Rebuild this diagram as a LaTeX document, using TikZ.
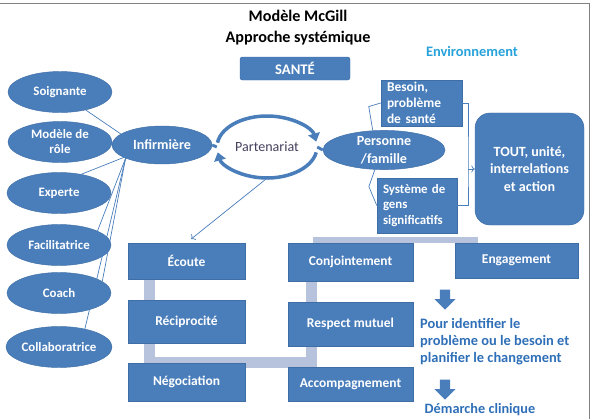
\documentclass[tikz,border=0pt]{standalone}
\usepackage{fontspec}
\setmainfont{Carlito}
\usetikzlibrary{shapes.geometric,shapes.arrows,arrows.meta,backgrounds}
\definecolor{boxBlue}{HTML}{4A7EBB}
\definecolor{boxEdge}{HTML}{3F6EA6}
\definecolor{barGray}{HTML}{B7C3DC}
\definecolor{textBlue}{HTML}{2E6FB7}
\definecolor{envBlue}{HTML}{27A2DB}
\definecolor{partText}{HTML}{45405E}

\begin{document}
\begin{tikzpicture}[x=0.03cm, y=-0.03cm,
    ovalStyle/.style={ellipse, draw=boxEdge, fill=boxBlue, text=white, align=center, inner sep=0pt, minimum width=3.12cm, minimum height=1.23cm, font=\bfseries\fontsize{11}{12.8}\selectfont},
    boxStyle/.style={rectangle, draw=boxEdge, fill=boxBlue, text=white, align=center, inner sep=0pt, minimum width=3.51cm, font=\bfseries\fontsize{11.5}{13.5}\selectfont},
    noteStyle/.style={rectangle, draw=boxEdge, fill=boxBlue, text=white, align=left, inner xsep=0.18cm, inner ysep=0pt, anchor=center},
    linkStyle/.style={draw=boxBlue, line width=0.6pt},
    barStyle/.style={draw=barGray, line width=0.32cm},
    arcStyle/.style={draw=boxBlue, line width=3pt, -{Triangle[length=7pt, width=10pt]}},
    bigArrow/.style={single arrow, fill=boxBlue, draw=none, shape border rotate=270, minimum height=0.6cm, minimum width=0.62cm, single arrow head extend=0.16cm, inner sep=0.15cm}]
    \useasboundingbox (0,0) rectangle (593,419);
    \draw[gray, line width=0.6pt] (0,3) -- (589,3) -- (589,419);

    % titre
    \node[font=\bfseries\fontsize{13.8}{17.9}\selectfont, align=center] (title) at (298,27.5) {Modèle McGill\\Approche systémique};
    \node[boxStyle, minimum width=3.3cm, minimum height=0.69cm, rounded corners=2pt, font=\bfseries\fontsize{12.5}{14}\selectfont] (sante) at (295,68.5) {SANTÉ};
    \node[font=\bfseries\fontsize{12.3}{14}\selectfont, text=envBlue] (env) at (472,51) {Environnement};

    % roles
    \node[ovalStyle] (role_1) at (60,92)  {Soignante};
    \node[ovalStyle] (role_2) at (60,142) {Modèle de\\rôle};
    \node[ovalStyle] (role_3) at (59,193) {Experte};
    \node[ovalStyle] (role_4) at (59,245) {Facilitatrice};
    \node[ovalStyle] (role_5) at (59,293) {Coach};
    \node[ovalStyle] (role_6) at (59,347) {Collaboratrice};

    \node[ovalStyle, minimum width=3cm, minimum height=1.14cm, font=\bfseries\fontsize{12}{14}\selectfont] (inf) at (162,145) {Infirmière};
    \node[ellipse, minimum width=3cm, minimum height=1.86cm, inner sep=0pt, text=partText, font=\fontsize{12}{14}\selectfont] (part) at (267,147) {Partenariat};
    \node[ovalStyle, minimum width=3.66cm, minimum height=1.08cm, font=\bfseries\fontsize{12}{15.3}\selectfont] (pf) at (384,150) {Personne\\/famille};

    \node[noteStyle, text width=2.07cm, minimum height=1.38cm, font=\bfseries\fontsize{11.5}{13.6}\selectfont] (besoin) at (421.5,103) {Besoin,\\problème\\de santé};
    \node[noteStyle, text width=2.04cm, minimum height=1.65cm, font=\bfseries\fontsize{11}{13.2}\selectfont] (sys) at (417,205.5) {Système de\\gens\\significatifs};
    \node[boxStyle, rounded corners=0.45cm, minimum width=3.27cm, minimum height=3.36cm, font=\bfseries\fontsize{12}{14.9}\selectfont] (tout) at (529.5,169) {TOUT, unité,\\interrelations\\et action};

    % attitudes
    \node[boxStyle, minimum height=1.08cm] (ecoute) at (186.5,261)   {Écoute};
    \node[boxStyle, minimum height=1.29cm] (recip)  at (186.5,321.5) {Réciprocité};
    \node[boxStyle, minimum height=1.14cm] (nego)   at (186.5,382)   {Négociation};
    \node[boxStyle, minimum width=3.75cm, minimum height=1.14cm] (conj)    at (350.5,262) {Conjointement};
    \node[boxStyle, minimum width=3.75cm, minimum height=1.32cm] (respect) at (350.5,324) {Respect mutuel};
    \node[boxStyle, minimum width=3.75cm, minimum height=1.02cm] (accomp)  at (350.5,384) {Accompagnement};
    \node[boxStyle, minimum width=3.69cm, minimum height=1.05cm] (engag)   at (516.5,260.5) {Engagement};

    \node[bigArrow] (arr_1) at (445,297) {};
    \node[bigArrow] (arr_2) at (445,387) {};
    \node[anchor=west, align=left, text=textBlue, font=\bfseries\fontsize{12.3}{14.5}\selectfont] (goal) at (416,342) {Pour identifier le\\problème ou le besoin et\\planifier le changement};
    \node[text=textBlue, font=\bfseries\fontsize{12.2}{14}\selectfont] (clin) at (480,410) {Démarche clinique};

    \begin{scope}[on background layer]
        \draw[barStyle] ([xshift=0.66cm]ecoute.south west) -- ([xshift=0.66cm]recip.north west);
        \draw[barStyle] ([xshift=0.66cm]recip.south west) -- ([xshift=0.66cm]nego.north west) -| ([xshift=0.72cm]respect.south west);
        \draw[barStyle] ([xshift=0.72cm]conj.south west) -- ([xshift=0.72cm]respect.north west);
        \draw[barStyle] ([xshift=0.72cm]respect.south west) -- ([xshift=0.72cm]accomp.north west);
        \fill[barGray] (313,237) rectangle (478,243);
    \end{scope}

    \draw[linkStyle] (role_1.-35) -- (inf.165);
    \draw[linkStyle] (role_2.east) -- (inf.west);
    \draw[linkStyle] (role_3.40) -- (inf.198);
    \draw[linkStyle] (role_4.20) -- (inf.200);
    \draw[linkStyle] (role_5.15) -- (inf.200);
    \draw[linkStyle] (role_6.35) -- (inf.200);

    \draw[boxBlue, line width=2.5pt] (inf.east) -- (part.west);
    \draw[boxBlue, line width=2.5pt] (part.east) -- (pf.west);
    \draw[arcStyle] ([shift={(172:1.5cm and 0.93cm)}]part.center) arc[start angle=172, end angle=10, x radius=1.5cm, y radius=0.93cm];
    \draw[arcStyle] ([shift={(-10:1.5cm and 0.93cm)}]part.center) arc[start angle=-10, end angle=-170, x radius=1.5cm, y radius=0.93cm];
    \draw[linkStyle, ->, shorten >=0.18cm] (part.south) -- (ecoute.north);

    \draw[linkStyle] (pf.120) -- ++(-4,-24) -- (besoin.west);
    \draw[linkStyle] (pf.245) -- ++(-6,17) -- (sys.west);
    \coordinate (brk) at (468,169);
    \draw[linkStyle] (besoin.east) -| (brk) |- (sys.east);
    \draw[linkStyle, ->] (brk) -- (tout.west);
\end{tikzpicture}
\end{document}
